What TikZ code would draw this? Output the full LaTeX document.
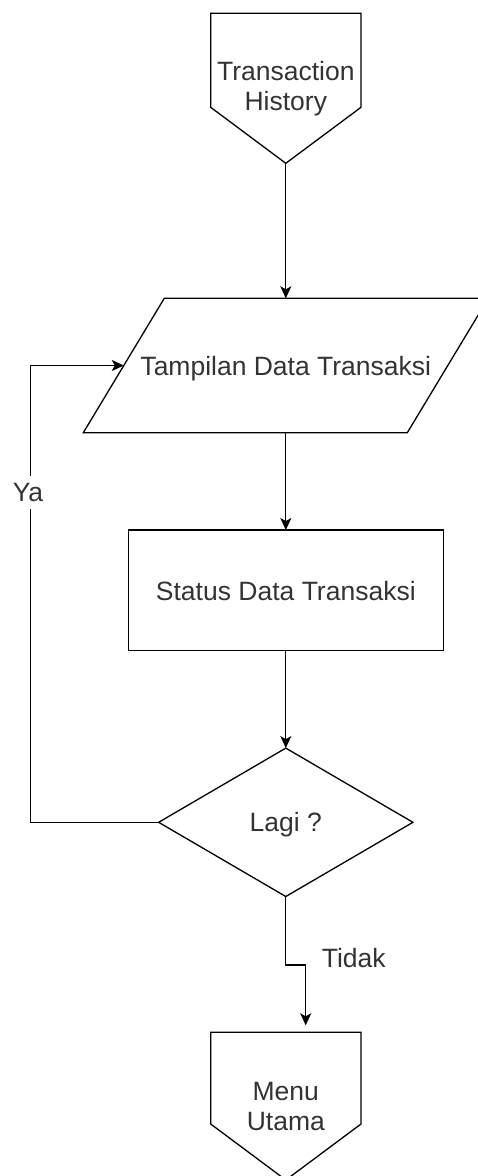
\documentclass[tikz,border=0pt]{standalone}
\usepackage{fontspec}
\setmainfont{Liberation Sans}
\usetikzlibrary{arrows.meta,shapes.geometric}
\definecolor{txtgray}{gray}{0.2}
\newcommand\dfont{\fontsize{26.5}{30}\selectfont}
\tikzset{
  shp/.style={draw=black, line width=1.3pt, line join=miter, outer sep=0pt},
  conn/.style={draw=black, line width=1.3pt, -{Stealth[length=12pt,width=11pt,inset=3pt]}},
  lbl/.style={font=\dfont, text=txtgray, inner sep=0pt},
}
\begin{document}
\begin{tikzpicture}[x=1pt,y=-1pt]
\useasboundingbox (0,0) rectangle (478,1176);

% Transaction History (off-page connector)
\draw[shp] (210.7,13.3) -- (361,13.3) -- (361,107.3) -- (285.8,163.3) -- (210.7,107.3) -- cycle;
\coordinate (thtip) at (285.8,163.3);
\node[lbl, align=center] (th) at (285.8,89) {Transaction\\History};

% Tampilan Data Transaksi (parallelogram)
\draw[shp] (164.3,298.3) -- (488.3,298.3) -- (407.3,432.7) -- (83.3,432.7) -- cycle;
\coordinate (ptop) at (285.8,298.3);
\coordinate (pbot) at (285.8,432.7);
\coordinate (pleft) at (123.8,365.5);
\node[lbl, text depth=0pt] (tampil) at (285.8,365.5) {Tampilan Data Transaksi};

% Status Data Transaksi
\node[shp, lbl, text depth=0pt, minimum width=315.3pt, minimum height=120.7pt] (status) at (285.8,590.4) {Status Data Transaksi};

% Lagi ?
\node[shp, lbl, text depth=0pt, diamond, minimum width=254.3pt, minimum height=148.4pt] (lagi) at (285.8,822.3) {Lagi ?};

% Menu Utama (off-page connector)
\draw[shp] (210.7,1032.3) -- (361,1032.3) -- (361,1124) -- (285.8,1180) -- (210.7,1124) -- cycle;
\coordinate (mutop) at (305.7,1032.3);
\node[lbl, align=center] (mu) at (285.8,1106.7) {Menu\\Utama};

% connectors
\coordinate (lx) at (30.7,600);
\coordinate (bend) at (305.7,965);
\draw[conn] (thtip) -- (ptop);
\draw[conn] (pbot) -- (status.north);
\draw[conn] (status.south) -- (lagi.north);
\draw[conn] (lagi.west) -- (lagi.west -| lx) -- (pleft -| lx) -- (pleft);
\draw[conn, shorten >=7pt] (lagi.south) -- (lagi.south |- bend) -- (bend) -- (mutop);

% labels
\node[lbl, text depth=0pt, fill=white, inner xsep=1pt, inner ysep=7.5pt] (ya) at (28,492.8) {Ya};
\node[lbl, text depth=0pt, anchor=west] (tidak) at (321.7,957.8) {Tidak};
\end{tikzpicture}
\end{document}
